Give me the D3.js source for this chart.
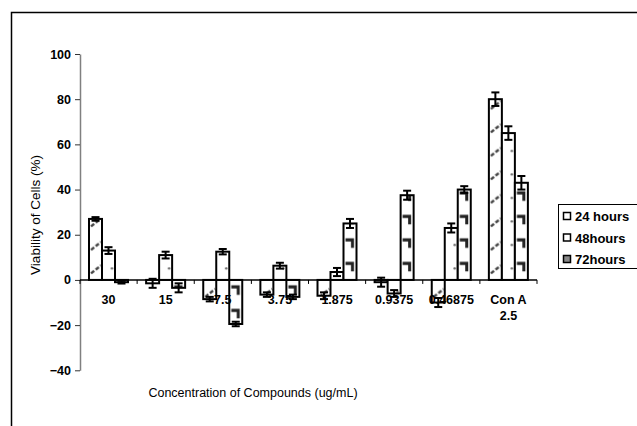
<!DOCTYPE html>
<html lang="en">
<head>
<meta charset="UTF-8">
<title>Viability of Cells</title>
<script src="https://d3js.org/d3.v7.min.js"></script>
<style>
  body { margin: 0; background: #fff; }
  text { font-family: "Liberation Sans", Arial, sans-serif; }
</style>
</head>
<body>
<svg id="svg" width="637" height="426"></svg>
<script>
// concentrations (ug/mL)
const categories = ["30", "15", "7.5", "3.75", "1.875", "0.9375", "0.46875", "Con A|2.5"];
const seriesNames = ["24 hours", "48hours", "72hours"];
// viability (%) per time point
const h24 = [27, -1.5, -8.5, -6.5, -7, -1, -10, 80];
const h48 = [13, 11, 12.5, 6.3, 3.5, -6, 23, 65];
const h72 = [-1, -3.5, -19.5, -7.5, 25, 37.5, 40, 43];
// error bars
const e24 = [0.8, 2, 1, 1, 1.5, 2, 2, 3];
const e48 = [1.5, 1.5, 1.2, 1.3, 1.8, 1.5, 2, 3];
const e72 = [0.6, 2, 1, 1, 2, 2, 1.5, 3];
const yTicks = [-40, -20, 0, 20, 40, 60, 80, 100];

const values = [h24, h48, h72];
const errors = [e24, e48, e72];

const svg = d3.select("#svg");

// outer frame (top and left edges visible)
svg.append("path")
    .attr("d", "M11.5,426 V12.5 H637")
    .attr("fill", "none")
    .attr("stroke", "#000")
    .attr("stroke-width", 1.5);

const x0 = d3.scaleBand().domain(categories).range([80, 537]).paddingInner(0).paddingOuter(0);
const x1 = d3.scaleBand().domain(seriesNames).range([9, 48]);
const y = d3.scaleLinear().domain([-40, 100]).range([370.3, 54]);

// patterns; bars sit inside translated groups, so tile origin is the band start
const defs = svg.append("defs");
const bw = x1.bandwidth();
const tileH = 23.5;

function makePattern(id, drawFn) {
    const p = defs.append("pattern")
        .attr("id", id)
        .attr("patternUnits", "userSpaceOnUse")
        .attr("x", 0)
        .attr("y", y(0))
        .attr("width", x0.step())
        .attr("height", tileH);
    p.append("rect").attr("width", x0.step()).attr("height", tileH).attr("fill", "#fff");
    drawFn(p);
}

makePattern("p24", p => {
    const bx = x1("24 hours");
    p.append("line")
        .attr("x1", bx + 2).attr("y1", 17)
        .attr("x2", bx + bw - 1).attr("y2", 9)
        .attr("stroke", "#444").attr("stroke-width", 2.4).attr("stroke-dasharray", "4,2");
});
makePattern("p48", p => {
    const bx = x1("48hours");
    p.append("circle").attr("cx", bx + bw - 3).attr("cy", 12).attr("r", 1.2).attr("fill", "#666");
});
makePattern("p72", p => {
    const bx = x1("72hours");
    p.append("path")
        .attr("d", `M${bx + 2},7 H${bx + bw - 4} V15`)
        .attr("fill", "none")
        .attr("stroke", "#222").attr("stroke-width", 3);
});
const patIds = ["p24", "p48", "p72"];

// y axis
const yAxis = svg.append("g")
    .attr("transform", "translate(80,0)")
    .call(d3.axisLeft(y).tickValues(yTicks).tickSize(5).tickSizeOuter(0).tickFormat(d3.format("d")));
yAxis.select(".domain").attr("stroke", "#808080").attr("stroke-width", 1.5);
yAxis.selectAll(".tick line").attr("stroke", "#333");
yAxis.selectAll(".tick text")
    .attr("font-size", 12.5).attr("font-weight", "bold").attr("fill", "#000")
    .attr("font-family", "Liberation Sans, Arial, sans-serif").attr("x", -9);

// bars
const groups = svg.append("g").selectAll("g")
    .data(categories)
    .join("g")
    .attr("transform", d => `translate(${x0(d)},0)`);

groups.selectAll("rect")
    .data((d, i) => seriesNames.map((s, j) => ({ s, j, v: values[j][i], e: errors[j][i] })))
    .join("rect")
    .attr("x", d => x1(d.s))
    .attr("y", d => y(Math.max(0, d.v)))
    .attr("width", bw)
    .attr("height", d => Math.abs(y(d.v) - y(0)))
    .attr("fill", d => `url(#${patIds[d.j]})`)
    .attr("stroke", "#000")
    .attr("stroke-width", 2);

// error bars
const eb = groups.selectAll("g.err")
    .data((d, i) => seriesNames.map((s, j) => ({ s, j, v: values[j][i], e: errors[j][i] })))
    .join("g")
    .attr("class", "err")
    .attr("stroke", "#000")
    .attr("stroke-width", 2);
eb.append("line")
    .attr("x1", d => x1(d.s) + bw / 2).attr("x2", d => x1(d.s) + bw / 2)
    .attr("y1", d => y(d.v + d.e)).attr("y2", d => y(d.v - d.e));
eb.append("line")
    .attr("x1", d => x1(d.s) + bw / 2 - 4).attr("x2", d => x1(d.s) + bw / 2 + 4)
    .attr("y1", d => y(d.v + d.e)).attr("y2", d => y(d.v + d.e));
eb.append("line")
    .attr("x1", d => x1(d.s) + bw / 2 - 4).attr("x2", d => x1(d.s) + bw / 2 + 4)
    .attr("y1", d => y(d.v - d.e)).attr("y2", d => y(d.v - d.e));

// x axis at zero with ticks at band edges
const xAxis = svg.append("g");
xAxis.append("line")
    .attr("x1", x0.range()[0]).attr("x2", x0.range()[1])
    .attr("y1", y(0)).attr("y2", y(0))
    .attr("stroke", "#000").attr("stroke-width", 1.5);
xAxis.selectAll("line.tk")
    .data(d3.range(categories.length + 1))
    .join("line")
    .attr("class", "tk")
    .attr("x1", i => x0.range()[0] + i * x0.step())
    .attr("x2", i => x0.range()[0] + i * x0.step())
    .attr("y1", y(0)).attr("y2", y(0) + 4)
    .attr("stroke", "#000").attr("stroke-width", 1);

xAxis.selectAll("text")
    .data(categories)
    .join("text")
    .attr("x", d => x0(d) + x0.bandwidth() / 2)
    .attr("y", y(0) + 24)
    .attr("text-anchor", "middle")
    .attr("font-size", 12.5)
    .attr("font-weight", "bold")
    .each(function (d) {
        const parts = d.split("|");
        d3.select(this).selectAll("tspan")
            .data(parts)
            .join("tspan")
            .attr("x", x0(d) + x0.bandwidth() / 2)
            .attr("dy", (p, k) => k === 0 ? 0 : 16)
            .text(p => p);
    });

// axis titles
svg.append("text")
    .attr("x", 253).attr("y", 397)
    .attr("text-anchor", "middle")
    .attr("font-size", 12.5)
    .text("Concentration of Compounds (ug/mL)");

svg.append("text")
    .attr("transform", "translate(40,215) rotate(-90)")
    .attr("text-anchor", "middle")
    .attr("font-size", 13.5)
    .text("Viability of Cells (%)");

// legend
const legend = svg.append("g");
legend.append("rect")
    .attr("x", 558.5).attr("y", 204.5)
    .attr("width", 90).attr("height", 64)
    .attr("fill", "#fff").attr("stroke", "#000").attr("stroke-width", 1);
const swFill = ["#fff", "#fff", "#888"];
const li = legend.selectAll("g.item")
    .data(seriesNames)
    .join("g")
    .attr("class", "item")
    .attr("transform", (d, i) => `translate(563,${216 + i * 21.5})`);
li.append("rect")
    .attr("x", 0.5).attr("y", -3.5)
    .attr("width", 7).attr("height", 7)
    .attr("fill", (d, i) => swFill[i])
    .attr("stroke", "#000").attr("stroke-width", 1.5);
li.append("text")
    .attr("x", 12).attr("y", 5)
    .attr("font-size", 13).attr("font-weight", "bold")
    .text(d => d);
</script>
</body>
</html>
